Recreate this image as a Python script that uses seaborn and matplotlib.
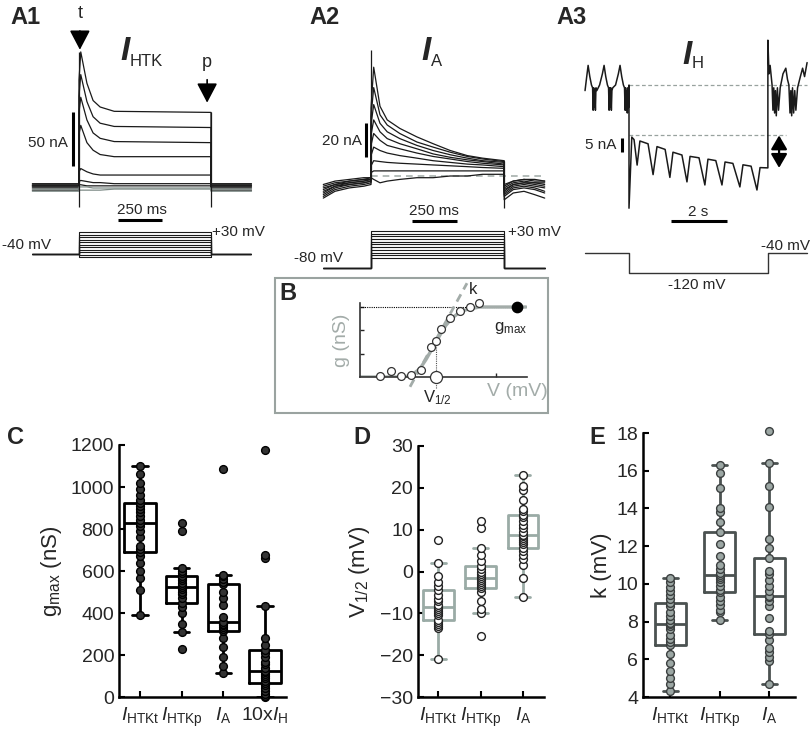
import numpy as np
import pandas as pd
import matplotlib
matplotlib.use('Agg')
import matplotlib.pyplot as plt
from matplotlib.patches import Rectangle
import seaborn as sns

W, H = 812, 737

# ---------------- A1 : I_HTK sweeps (time in ms, current in nA) ----------------
a1_knot_t = [0, 10, 45, 80, 120, 200, 750]
a1_sweeps = [
    [100, 126, 97, 81, 75, 71, 70],
    [85, 105, 80, 66, 60, 57, 56],
    [70, 84, 63, 51, 46, 43, 42],
    [50, 58, 42, 35, 31, 29, 29],
    [15, 18, 15, 13, 12, 12, 12],
    [6, 7, 6, 5, 5, 4, 4],
    [3, 3, 2, 2, 2, 2, 2],
    [1, 1, 1, 0, 0, 0, 0],
    [-2, -2, -2, -2, -2, -1, -1],
]
a1_base = [3, 2, 4, 1, 0, -2, 2, -1, -3]
a1_steps_mv = [-50, -42, -34, -26, -18, -10, -2, 6, 14, 22, 30]

# ---------------- A2 : I_A sweeps ----------------
a2_pre_t = [-265, -200, -120, -40, 0]
a2_pre = [
    [-8, -5, -4, -3, -2],
    [-10, -6, -5, -4, -3],
    [-12, -8, -6, -5, -4],
    [-13, -9, -7, -6, -5],
    [-11, -7, -5, -4, -3],
    [-9, -6, -4, -3, -2],
    [-7, -5, -3, -2, -1],
    [-6, -4, -3, -2, -2],
    [-5, -3, -2, -1, -1],
]
a2_knot_t = [0, 15, 50, 90, 160, 255, 345, 440, 535, 620, 740]
a2_sweeps = [
    [40, 64, 41, 33, 28, 23, 19, 15, 12, 10.5, 9],
    [35, 52, 36, 30, 25, 20, 17, 14, 11.5, 10, 8.5],
    [30, 42, 31, 26, 22, 18, 15, 12.5, 10.5, 9, 8],
    [24, 33, 26, 22, 19, 16, 13, 11, 9.5, 8.5, 7],
    [18, 25, 21, 18, 16, 13.5, 11.5, 10, 8.5, 7.5, 6.5],
    [12, 17, 15, 13.5, 12, 10.5, 9, 8, 7, 6.5, 5.5],
    [6, 9, 8.5, 8, 7.5, 7, 6.5, 6, 5.5, 5, 4.5],
    [2, 3, 3, 3, 3, 3, 3, 3, 3, 3, 3],
    [-1, -2, -4, -3, -2, -1, -1, 0, 0, 1, 1],
]
a2_post_t = [740, 790, 850, 910, 965]
a2_post = [
    [-6, -3, -2, -3, -3],
    [-8, -5, -4, -4, -5],
    [-10, -6, -5, -6, -7],
    [-12, -8, -7, -8, -10],
    [-14, -10, -9, -11, -13],
    [-11, -7, -6, -7, -9],
    [-9, -5, -4, -5, -6],
    [-7, -4, -3, -4, -4],
    [-5, -3, -2, -2, -3],
]
a2_steps_mv = [-50, -42, -34, -26, -18, -10, -2, 6, 14, 22, 30]

# ---------------- A3 : I_H trace (time in s, current in nA) ----------------
a3_pre_t = [-1.57, -1.51, -1.46, -1.40, -1.34, -1.30, -1.28, -1.26, -1.24, -1.22,
            -1.20, -1.18, -1.15, -1.05, -0.95, -0.89, -0.83, -0.77, -0.73, -0.71,
            -0.69, -0.67, -0.65, -0.63, -0.61, -0.58, -0.48, -0.38, -0.32, -0.26,
            -0.20, -0.16, -0.14, -0.12, -0.10, -0.08, -0.06, -0.04, -0.02, 0.0]
a3_pre_i = [-2, 3, 7, 3, 0, -1, -9, -1, -8, -2,
            -9, -1, -2, 0, 4, 7, 3, 0, -1, -9,
            -1, -8, -1, -9, -2, -1, 0, 4, 7, 3,
            0, -1, -9, -1, -9, -2, -10, -1, -8, 0]
a3_step_t = [0.0, 0.0, 0.10, 0.18, 0.29, 0.39, 0.68, 0.86, 1.0, 1.29,
             1.46, 1.57, 1.89, 2.07, 2.18, 2.5, 2.71, 2.82, 3.1, 3.32,
             3.43, 3.71, 3.96, 4.07, 4.36, 4.57, 4.68, 4.96]
a3_step_i = [0, -44, -18.6, -19.5, -28.6, -20, -21, -32, -22, -23,
             -33, -24, -25, -34.6, -25.5, -26, -35.7, -26.5, -27, -35.7,
             -27.5, -28, -36.4, -28.5, -29, -37.5, -29.5, -29.6]
a3_post_t = [4.96, 4.96, 5.0, 5.04, 5.08, 5.11, 5.14, 5.17, 5.20, 5.23,
             5.26, 5.30, 5.34, 5.40, 5.50, 5.60, 5.66, 5.71, 5.75, 5.78,
             5.81, 5.84, 5.88, 5.92, 5.96, 6.02, 6.12, 6.20, 6.27, 6.36]
a3_post_i = [-29.6, 16, 4, 7, 3, 0, -9, -1, -10, -2,
             -11, -1, -9, -1, 4, 6, 2, 0, -10, -2,
             -11, -1, -10, -2, -9, -1, 3, 6, 3, 8]
a3_proto_t = [-1.57, 0, 0, 4.96, 4.96, 6.36]
a3_proto_mv = [-40, -40, -120, -120, -40, -40]

# ---------------- B : activation curve schematic ----------------
b_v = [-28, -22.5, -17.5, -12.5, -7.5, -2.5, 0, 2.5, 7, 12, 17, 21.5]
b_g = [0.01, 0.09, 0.01, 0.03, 0.10, 0.43, 0.51, 0.69, 0.84, 0.94, 1.0, 1.06]
b_fit_v = [-38, -16, -12, -8, -5, -2, 0, 2, 5, 8, 12, 16, 22, 45]
b_fit_g = [0, 0, 0.03, 0.12, 0.25, 0.4, 0.5, 0.6, 0.74, 0.84, 0.93, 0.97, 1.0, 1.0]
b_k_v = [-13, 15.5]
b_k_g = [-0.14, 1.34]
b_gmax = (40.5, 1.0)

# ---------------- C, D, E : box plots ----------------
cats_c = ['HTKt', 'HTKp', 'A', 'H10']
gmax_htkt = [390, 510, 565, 600, 640, 670, 690, 705, 720, 760, 790, 815, 830,
             845, 860, 880, 895, 910, 925, 940, 960, 990, 1020, 1060, 1100]
gmax_htkp = [230, 310, 350, 400, 430, 450, 470, 490, 500, 515, 525,
             535, 545, 555, 565, 575, 590, 600, 615, 790, 830]
gmax_a = [115, 150, 190, 240, 280, 315, 325, 335, 345, 350, 355,
          380, 440, 470, 500, 540, 550, 560, 575, 580, 1085]
gmax_h10 = [0, 5, 15, 30, 45, 55, 65, 75, 90, 100, 110, 120, 125,
            140, 155, 165, 190, 210, 225, 250, 280, 435, 660, 675, 1175]

cats_de = ['HTKt', 'HTKp', 'A']
vhalf_htkt = [-21, -13.5, -13, -12.5, -12, -11.5, -10.5, -10, -9.5, -9, -8.5,
              -8, -7, -6.5, -5.5, -4.5, -3.5, -2.5, -1, 2, 7.5]
vhalf_htkp = [-15.5, -10, -9, -7, -5, -4, -3.5, -3, -2.5, -2, -1.5,
              -1, -0.5, 0, 0.5, 1.3, 2.5, 4, 5.5, 10.5, 12]
vhalf_a = [-6, -1.5, 1.5, 3, 4, 5, 5.7, 6.5, 7, 7.5, 8, 8.5, 8.8,
           9.5, 10.5, 11, 12, 13, 13.6, 14.5, 15, 17, 19.5, 20.5, 23]

k_htkt = [4.3, 4.7, 5.0, 5.4, 5.8, 6.3, 6.75, 6.9, 7.1, 7.3, 7.6, 7.75, 7.85,
          7.95, 8.1, 8.3, 8.5, 8.8, 9.0, 9.2, 9.4, 9.6, 9.85, 10.1, 10.3]
k_htkp = [8.1, 8.5, 8.6, 8.9, 9.1, 9.3, 9.55, 9.7, 9.9, 10.1, 10.25, 10.35, 10.45,
          10.6, 10.8, 11.0, 11.5, 12.1, 12.75, 13.3, 13.8, 14.0, 15.1, 15.9, 16.3]
k_a = [4.7, 5.9, 6.1, 6.4, 6.6, 7.0, 7.35, 7.5, 8.2, 8.8, 9.1, 9.3, 9.35,
       9.6, 9.9, 10.2, 10.5, 10.7, 11.35, 11.9, 12.4, 14.1, 15.2, 16.4, 18.1]

lab_c = [r'$\mathit{I}_{\mathrm{HTKt}}$', r'$\mathit{I}_{\mathrm{HTKp}}$',
         r'$\mathit{I}_{\mathrm{A}}$', r'10x$\mathit{I}_{\mathrm{H}}$']
lab_de = lab_c[:3]

# ---------------- style ----------------
sns.set_style('ticks')
plt.rcParams['font.family'] = ['Liberation Sans', 'DejaVu Sans']
plt.rcParams['mathtext.fontset'] = 'custom'
plt.rcParams['mathtext.rm'] = 'Liberation Sans'
plt.rcParams['mathtext.it'] = 'Liberation Sans:italic'
plt.rcParams['mathtext.bf'] = 'Liberation Sans:bold'

fig = plt.figure(figsize=(W / 100, H / 100), dpi=100)

def px_axes(l, t, r, b):
    return fig.add_axes([l / W, 1 - b / H, (r - l) / W, (b - t) / H])

def calib_axes(box, x0, x0_px, xs, y0, y0_px, ys, off=True):
    # box in pixels; (x0, y0) data point sits at pixel (x0_px, y0_px); xs, ys pixels per unit
    l, t, r, b = box
    ax = px_axes(l, t, r, b)
    ax.set_xlim(x0 + (l - x0_px) / xs, x0 + (r - x0_px) / xs)
    ax.set_ylim(y0 + (y0_px - b) / ys, y0 + (y0_px - t) / ys)
    if off:
        ax.set_axis_off()
    return ax

def ftext(x, y, s, **kw):
    kw.setdefault('ha', 'center')
    kw.setdefault('va', 'center')
    fig.text(x / W, 1 - y / H, s, **kw)

def trace(ax, t, v, color='#1a1a1a', lw=0.9, **kw):
    sns.lineplot(x=t, y=v, ax=ax, sort=False, estimator=None, color=color, lw=lw, **kw)

BLACK = '#1a1a1a'
TRACE_GRAY = '#7f8c88'
ARROW = dict(arrowstyle='-|>,head_length=0.8,head_width=0.42', mutation_scale=15,
             color='black', lw=1.2, shrinkA=4, shrinkB=0)

# ---------------- A1 ----------------
ax = calib_axes((28, 40, 258, 228), 0, 79, 0.176, 0, 188, 1.08)
for i, (sw, b) in enumerate(zip(a1_sweeps, a1_base)):
    t = [-265, 0] + a1_knot_t + [750, 980]
    v = [b, b] + sw + [b, b]
    trace(ax, t, v, color=TRACE_GRAY if i >= 7 else BLACK)
ax.vlines([0], -18, 126, color=BLACK, lw=0.9)
ax.vlines([750], -18, 70, color=BLACK, lw=0.9)
ax.vlines([-34], 20, 70, color='black', lw=2.2)
ax.hlines([-30], 222, 472, color='black', lw=2.2)
ax.annotate('t', xy=(5, 128), xytext=(0, 26), textcoords='offset points',
            ha='center', va='center', fontsize=13, arrowprops=ARROW)
ax.annotate('p', xy=(728, 79), xytext=(0, 29), textcoords='offset points',
            ha='center', va='center', fontsize=13, arrowprops=ARROW)

ax = calib_axes((28, 226, 258, 262), 0, 79, 0.176, -40, 254, 0.314)
for s in a1_steps_mv:
    trace(ax, [-265, 0, 0, 750, 750, 980], [-40, -40, s, s, -40, -40], color=BLACK, lw=0.8)

ftext(25, 17, 'A1', fontsize=17, fontweight='bold')
ftext(125, 51, 'I', fontsize=24, fontweight='bold', style='italic')
ftext(146, 62, 'HTK', fontsize=12)
ftext(48, 143, '50 nA', fontsize=11)
ftext(142, 210, '250 ms', fontsize=11)
ftext(26, 245, '-40 mV', fontsize=11)
ftext(238, 232, '+30 mV', fontsize=11)

# ---------------- A2 ----------------
ax = calib_axes((320, 40, 547, 225), 0, 371, 0.18, 0, 176, 1.7)
ax.hlines([0], 0, 965, color='#a7b0ad', lw=1.2, ls=(0, (4, 3)))
for i in range(len(a2_sweeps)):
    t = a2_pre_t + a2_knot_t + a2_post_t
    v = a2_pre[i] + a2_sweeps[i] + a2_post[i]
    trace(ax, t, v, color=BLACK)
ax.vlines([0], -2, 74, color=BLACK, lw=0.9)
ax.vlines([740], -19, 9, color=BLACK, lw=0.9)
ax.vlines([-28], 11, 31, color='black', lw=2.2)
ax.hlines([-26.5], 228, 478, color='black', lw=2.2)

ax = calib_axes((320, 226, 547, 272), 0, 371, 0.18, -80, 268, 0.336)
for s in a2_steps_mv:
    trace(ax, [-265, 0, 0, 740, 740, 965], [-80, -80, s, s, -80, -80], color=BLACK, lw=0.8)

ftext(325, 17, 'A2', fontsize=17, fontweight='bold')
ftext(426, 51, 'I', fontsize=24, fontweight='bold', style='italic')
ftext(437, 62, 'A', fontsize=12)
ftext(342, 141, '20 nA', fontsize=11)
ftext(434, 211, '250 ms', fontsize=11)
ftext(319, 258, '-80 mV', fontsize=11)
ftext(534, 232, '+30 mV', fontsize=11)

# ---------------- A3 ----------------
ax = calib_axes((580, 35, 812, 226), 0, 629, 28, 0, 85, 2.8)
ax.hlines([0], 0, 6.36, color='#98a29f', lw=0.9, ls=(0, (3, 2)))
ax.hlines([-18], 0, 5.6, color='#98a29f', lw=0.9, ls=(0, (3, 2)))
trace(ax, a3_pre_t + a3_step_t + a3_post_t, a3_pre_i + a3_step_i + a3_post_i, color=BLACK, lw=1.1)
ax.annotate('', xy=(5.36, -18), xytext=(5.36, -29.6),
            arrowprops=dict(arrowstyle='<|-|>,head_length=0.6,head_width=0.35',
                            mutation_scale=14, color='black', lw=1.6, shrinkA=0, shrinkB=0))
ax.vlines([-0.25], -23.9, -18.9, color='black', lw=2.2)
ax.hlines([-48.6], 1.5, 3.5, color='black', lw=2.2)

ax = calib_axes((580, 240, 812, 282), 0, 629, 28, -40, 253, 0.25)
trace(ax, a3_proto_t, a3_proto_mv, color='#333333', lw=1.0)

ftext(572, 17, 'A3', fontsize=17, fontweight='bold')
ftext(687, 55, 'I', fontsize=24, fontweight='bold', style='italic')
ftext(698, 63, 'H', fontsize=12)
ftext(601, 145, '5 nA', fontsize=11)
ftext(698, 212, '2 s', fontsize=11)
ftext(786, 246, '-40 mV', fontsize=11)
ftext(697, 285, '-120 mV', fontsize=11)

# ---------------- B ----------------
fig.add_artist(Rectangle((275 / W, 1 - 413 / H), (548 - 275) / W, (413 - 278) / H,
                         transform=fig.transFigure, fill=False, ec='#9aa3a0', lw=1.5))
GRAY = '#a3aca9'
ax = calib_axes((360, 285, 527, 377), -38, 360, 2.0, 0, 377, 70, off=False)
sns.despine(ax=ax)
ax.spines['left'].set_bounds(0, 1.06)
for s in ['left', 'bottom']:
    ax.spines[s].set_linewidth(1.2)
    ax.spines[s].set_color('#333333')
ax.set_yticks([1 / 3, 2 / 3, 1])
ax.set_xticks([30])
ax.tick_params(direction='in', length=3, width=1, labelleft=False, labelbottom=False)
ax.hlines([1.0], -38, b_gmax[0], color='black', lw=0.8, ls=(0, (1, 1)))
ax.vlines([0], -0.15, 0.5, color='#555555', lw=0.8, ls=(0, (1, 1)), clip_on=False)
trace(ax, b_fit_v, b_fit_g, color=GRAY, lw=2.4)
ax.plot(b_k_v, b_k_g, color=GRAY, lw=2.0, ls=(0, (3, 2)), clip_on=False)
sns.scatterplot(x=b_v, y=b_g, ax=ax, s=32, color='white', edgecolor='#333333',
                linewidth=0.9, zorder=4, clip_on=False)
ax.scatter([0], [0], s=75, color='white', edgecolor='#333333', linewidth=0.9, zorder=4, clip_on=False)
ax.scatter([b_gmax[0]], [b_gmax[1]], s=55, color='black', zorder=4, clip_on=False)

ftext(288, 293, 'B', fontsize=17, fontweight='bold')
ftext(342, 340, 'g (nS)', fontsize=14, color=GRAY, rotation=90)
ftext(517, 392, 'V (mV)', fontsize=14, color=GRAY)
ftext(437, 398, r'V$_{1/2}$', fontsize=12)
ftext(511, 328, r'g$_{\mathrm{max}}$', fontsize=12)
ftext(473, 289, 'k', fontsize=12)

# ---------------- C, D, E ----------------
def box_panel(box, cats, groups, box_color, face, edge, width, ylim, yticks, xlim, labels, ylabel, pad):
    ax = px_axes(*box)
    df = pd.DataFrame({'cur': np.repeat(cats, [len(g) for g in groups]),
                       'val': np.concatenate(groups)})
    sns.boxplot(data=df, x='cur', y='val', order=cats, ax=ax, fill=False, color=box_color,
                linewidth=2.0, width=width, showfliers=False, whis=1.5)
    sns.stripplot(data=df, x='cur', y='val', order=cats, ax=ax, jitter=False, size=5.6,
                  color=face, edgecolor=edge, linewidth=1.0, zorder=5)
    for c in ax.collections:
        c.set_clip_on(False)
    ax.set_xlim(xlim)
    ax.set_ylim(ylim)
    ax.set_yticks(yticks)
    ax.set_xticks(range(len(cats)))
    ax.set_xticklabels(labels, fontsize=16)
    ax.set_xlabel('')
    ax.set_ylabel(ylabel, fontsize=16, labelpad=pad)
    sns.despine(ax=ax)
    for s in ['left', 'bottom']:
        ax.spines[s].set_linewidth(1.8)
        ax.spines[s].set_color('black')
    ax.tick_params(direction='in', length=4, width=1.5, labelsize=14, color='black')
    ax.tick_params(axis='x', pad=6)
    return ax

box_panel((119, 445, 286, 697), cats_c, [gmax_htkt, gmax_htkp, gmax_a, gmax_h10],
          'black', '#333333', 'black', 0.75, (0, 1200), range(0, 1201, 200),
          (-0.5, 3.5), lab_c, r'g$_{\mathrm{max}}$ (nS)', 5)
box_panel((418, 446, 544, 697), cats_de, [vhalf_htkt, vhalf_htkp, vhalf_a],
          '#9aaba6', 'white', '#222222', 0.72, (-30, 30), range(-30, 31, 10),
          (-0.48, 2.5), lab_de, r'V$_{1/2}$ (mV)', 6)
box_panel((643, 433, 795, 697), cats_de, [k_htkt, k_htkp, k_a],
          '#4b5251', '#9ca7a4', '#3b3f3f', 0.62, (4, 18), range(4, 19, 2),
          (-0.55, 2.52), lab_de, 'k (mV)', 3)

ftext(15, 438, 'C', fontsize=17, fontweight='bold')
ftext(362, 438, 'D', fontsize=17, fontweight='bold')
ftext(597, 438, 'E', fontsize=17, fontweight='bold')

fig.savefig('out.png', dpi=100)
